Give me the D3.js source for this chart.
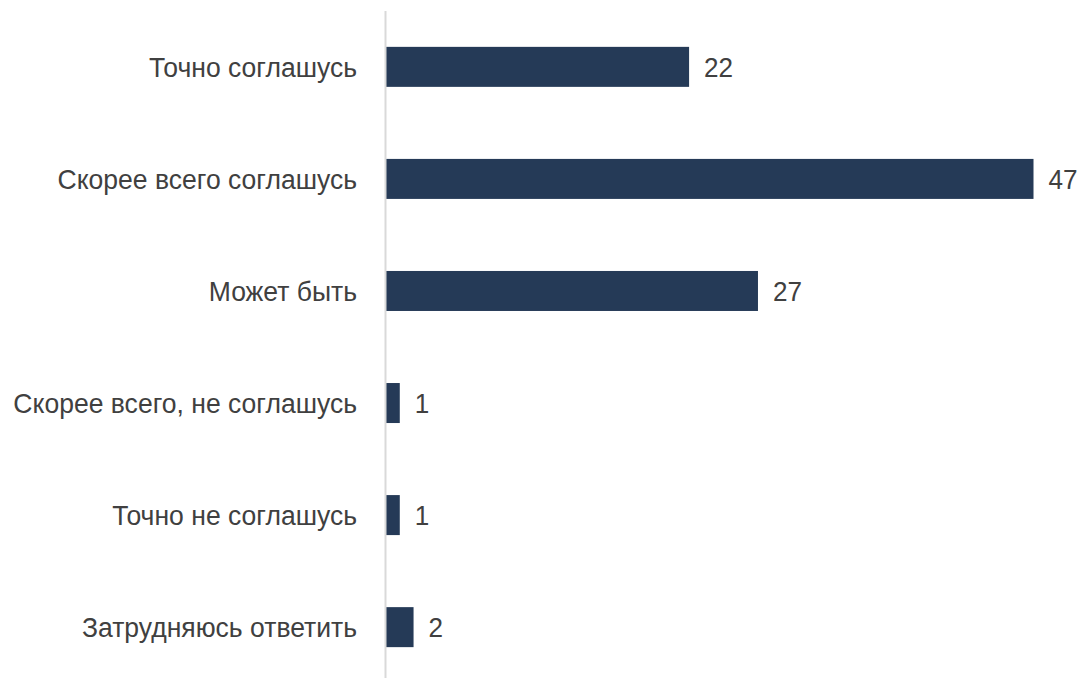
<!DOCTYPE html>
<html><head><meta charset="utf-8">
<script src="https://cdn.jsdelivr.net/npm/d3@7"></script>
<style>body{margin:0;background:#fff}</style>
</head><body>
<svg id="c" width="1081" height="678"></svg>
<script>
const categories = ["Точно соглашусь","Скорее всего соглашусь","Может быть","Скорее всего, не соглашусь","Точно не соглашусь","Затрудняюсь ответить"];
const values = [22,47,27,1,1,2];

const svg = d3.select("#c");
const x0 = 386;
const font = "'Liberation Sans',Arial,sans-serif";
const fs = 27.5;
const x = d3.scaleLinear().domain([0,47]).range([x0,1033.5]);
const y = d3.scaleBand().domain(categories).range([11,683]).paddingInner(0.643).paddingOuter(0.32);

svg.selectAll("rect.bar").data(values).enter().append("rect")
  .attr("x", x(0)).attr("y",(d,i)=>y(categories[i]))
  .attr("width", d=>x(d)-x(0)).attr("height", y.bandwidth())
  .attr("fill","#253a57");

svg.append("line").attr("x1",x0-0.5).attr("x2",x0-0.5).attr("y1",11).attr("y2",678)
  .attr("stroke","#d9d9d9").attr("stroke-width",2);

svg.selectAll("g.cat").data(categories).enter().append("g")
  .attr("transform",d=>`translate(357,${y(d)+y.bandwidth()/2}) scale(0.965,1)`)
  .append("text")
  .attr("dy","0.37em")
  .attr("text-anchor","end").attr("font-family",font).attr("font-size",fs)
  .attr("fill","#404040").text(d=>d);

svg.selectAll("g.val").data(values).enter().append("g")
  .attr("transform",(d,i)=>`translate(${x(d)+15},${y(categories[i])+y.bandwidth()/2}) scale(0.95,1)`)
  .append("text")
  .attr("dy","0.37em")
  .attr("font-family",font).attr("font-size",fs).attr("fill","#404040").text(d=>d);
</script>
</body></html>
